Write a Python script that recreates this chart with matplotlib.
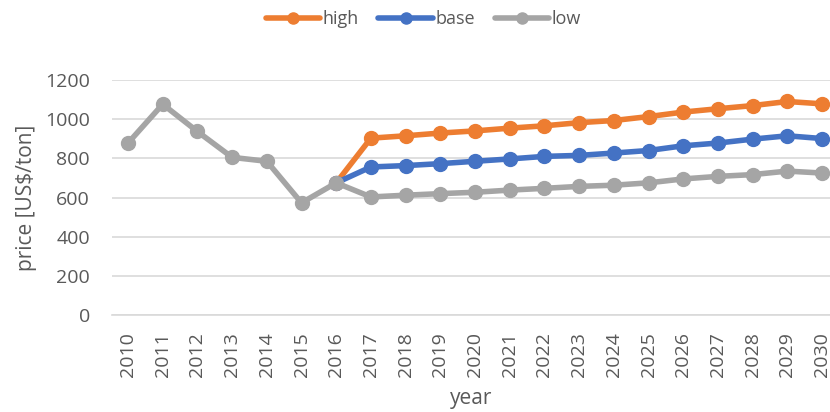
import numpy as np
import matplotlib.pyplot as plt

plt.rcParams.update({
    "font.family": ["Open Sans", "DejaVu Sans"],
    "font.size": 14,
})

# ── Data ──────────────────────────────────────────────────────────────────────
years = [str(y) for y in range(2010, 2031)]
nan = np.nan
high = [nan, nan, nan, nan, nan, nan, 675, 903, 915, 929, 940, 954, 966, 982,
        993, 1013, 1036, 1053, 1069, 1090, 1078]
base = [nan, nan, nan, nan, nan, nan, 675, 756, 763, 773, 785, 797, 810, 815,
        827, 840, 864, 878, 898, 915, 901]
low = [878, 1076, 937, 805, 785, 573, 675, 603, 612, 620, 627, 638, 647, 657,
       663, 675, 695, 708, 717, 735, 725]

series = [("high", high, "#ED7D31"), ("base", base, "#4472C4"), ("low", low, "#A5A5A5")]
text_col = "#595959"

fig = plt.figure(figsize=(8.3, 4.12), dpi=100)
ax = fig.add_axes([0.135, 0.235, 0.865, 0.571])

x = np.arange(len(years))
for name, vals, col in series:
    ax.plot(x, vals, color=col, linewidth=4, marker="o", markersize=10,
            label=name, solid_capstyle="round", zorder=3)

ax.set_xlim(-0.46, 20.23)
ax.set_ylim(0, 1200)
ax.set_yticks(range(0, 1201, 200))
ax.set_xticks(x)
ax.set_xticklabels(years, rotation=90)

ax.yaxis.grid(True, color="#D9D9D9", linewidth=1.2, zorder=0)
ax.set_axisbelow(True)
for s in ("top", "right", "left"):
    ax.spines[s].set_visible(False)
ax.spines["bottom"].set_color("#D9D9D9")
ax.spines["bottom"].set_linewidth(1.2)
ax.tick_params(axis="both", length=0, colors=text_col, labelsize=14)
ax.tick_params(axis="y", pad=16)
ax.tick_params(axis="x", pad=12)

ax.set_xlabel("year", color=text_col, fontsize=15, labelpad=8)
ax.set_ylabel("price [US$/ton]", color=text_col, fontsize=15, labelpad=6)

leg = fig.legend(loc="upper center", bbox_to_anchor=(0.51, 1.015), ncol=3,
                 frameon=False, fontsize=13, handlelength=3.0, columnspacing=1.1,
                 handletextpad=0.15)
for t in leg.get_texts():
    t.set_color(text_col)
for h in leg.legend_handles:
    h.set_markersize(8)

fig.savefig("out.png", dpi=100)
